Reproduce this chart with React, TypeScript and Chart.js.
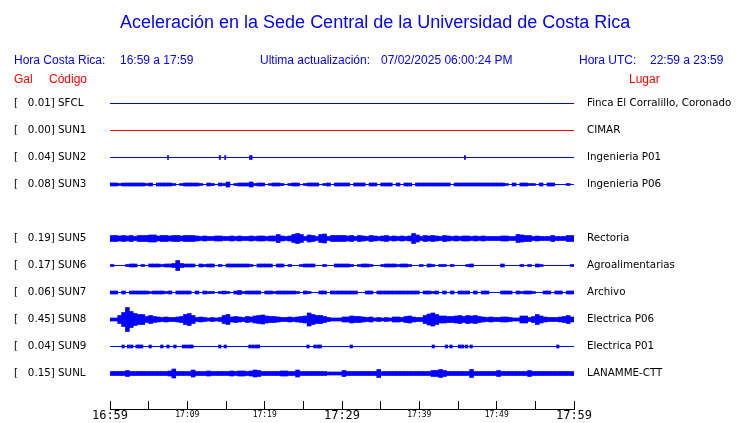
import React, { useEffect, useRef } from 'react';
import { Chart, registerables } from 'chart.js';

Chart.register(...registerables);

// ---------- text ----------
const TITLE = 'Aceleración en la Sede Central de la Universidad de Costa Rica';
const HORA_CR_LABEL = 'Hora Costa Rica:';
const HORA_CR = '16:59 a 17:59';
const ACT_LABEL = 'Ultima actualización:';
const ACT_VALUE = '07/02/2025 06:00:24 PM';
const HORA_UTC_LABEL = 'Hora UTC:';
const HORA_UTC = '22:59 a 23:59';

// ---------- stations (row order, empty row = missing SUN4) ----------
const CODES = ['SFCL', 'SUN1', 'SUN2', 'SUN3', '', 'SUN5', 'SUN6', 'SUN7', 'SUN8', 'SUN9', 'SUNL'];
const GAL = [0.01, 0.0, 0.04, 0.08, null, 0.19, 0.17, 0.06, 0.45, 0.04, 0.15];
const PLACES = [
  'Finca El Corralillo, Coronado', 'CIMAR', 'Ingenieria P01', 'Ingenieria P06', '',
  'Rectoria', 'Agroalimentarias', 'Archivo', 'Electrica P06', 'Electrica P01', 'LANAMME-CTT',
];
const TRACE_COLORS = ['#0000ff', '#ff0000', '#0000ff', '#0000ff', '', '#0000ff', '#0000ff', '#0000ff', '#0000ff', '#0000ff', '#0000ff'];

// ---------- time axis (minutes after 16:59) ----------
const X_TICKS = [0, 5, 10, 15, 20, 25, 30, 35, 40, 45, 50, 55, 60];
const X_TICK_LABELS = ['16:59', '', '17:09', '', '17:19', '', '17:29', '', '17:39', '', '17:49', '', '17:59'];
const X_MAJOR_LABELS = ['16:59', '17:29', '17:59'];

// ---------- trace envelopes: half-amplitude per 30 s bin (120 bins) ----------
const SUN3_ENV = [
  1.5, 1.5, 1, 1.5, 1.5, 1.5, 1.5, 1.5, 1.5, 1, 1.5, 0, 1.5, 1.5, 1.5, 1.5, 1, 0, 1, 1.5,
  1.5, 1.5, 1.5, 1, 0, 1.5, 1, 0, 1.5, 1, 2.5, 0, 1, 1.5, 1.5, 1.5, 2.5, 1, 1.5, 1.5,
  0, 1, 1.5, 1.5, 1, 0, 1, 1.5, 1.5, 0, 1, 1.5, 1.5, 1.5, 0, 1, 1.5, 0, 1.5, 1.5,
  1.5, 1.5, 0, 1.5, 1.5, 1.5, 0, 1.5, 1.5, 0, 1.5, 1.5, 1.5, 0, 1.5, 0, 1.5, 1.5, 0, 1.5,
  1.5, 1.5, 1.5, 1.5, 1.5, 1.5, 1.5, 1.5, 0, 1.5, 1.5, 1.5, 1.5, 1.5, 1.5, 1.5, 1.5, 1.5, 1.5, 1.5,
  1.5, 1.5, 1, 0, 1.5, 0, 1.5, 1.5, 1, 1, 0, 1.5, 0, 1.5, 1.5, 0, 0, 0, 1, 0,
];
const SUN5_ENV = [
  3, 3, 2.5, 3, 2.5, 3, 2, 3, 3, 3, 3.5, 3.5, 2.5, 3, 3, 2.5, 3, 3, 2.5, 3,
  3, 3, 2.5, 2, 2.5, 2, 2, 2.5, 2.5, 2, 2, 2.5, 2, 2.5, 2, 2, 2.5, 2, 2.5, 2.5,
  2, 2.5, 2.5, 4, 2.5, 2, 2.5, 4, 5, 4, 2, 3.5, 3, 2, 4, 4.5, 2, 3, 3, 3,
  3, 2.5, 3, 2, 3, 2.5, 2, 3, 2.5, 2, 2.5, 3, 2, 2.5, 2, 2.5, 2, 2.5, 5, 3.5,
  2, 3, 2.5, 3, 2.5, 2, 3, 2.5, 2, 2.5, 2, 2.5, 2.5, 2, 2.5, 2, 2.5, 2, 2, 2,
  2, 2.5, 2.5, 2, 2, 4, 3.5, 3, 3, 2, 2.5, 2, 2, 2, 3, 2, 2, 2, 3, 3,
];
const SUN6_ENV = [
  1, 0, 0, 0, 1, 1.5, 1.5, 0, 1, 0, 1.5, 1.5, 1.5, 1, 1.5, 1.5, 2, 5, 2, 1.5,
  1.5, 1.5, 0, 1.5, 1, 1.5, 1.5, 0, 1, 0, 1.5, 1.5, 1.5, 1.5, 1.5, 1.5, 1, 0, 1.5, 1.5,
  1.5, 1.5, 0, 1.5, 1.5, 0, 1, 0, 0, 1, 1.5, 1.5, 1.5, 0, 0, 1, 0, 0, 1.5, 1.5,
  1.5, 1.5, 1, 0, 1, 1.5, 1.5, 1, 0, 0, 1, 1.5, 1.5, 1.5, 1, 1.5, 1.5, 1, 0, 0,
  1, 0, 1.5, 1, 0, 1, 1, 0, 1, 0, 0, 0, 1, 1.5, 0, 0, 0, 0, 0, 0,
  0, 1.5, 0, 0, 0, 0, 1, 0, 1, 0, 1.5, 1, 0, 0, 0, 0, 0, 0, 0, 1,
];
const SUN7_ENV = [
  1.5, 1.5, 0, 1.5, 0, 1.5, 1.5, 1.5, 1.5, 1.5, 1, 1.5, 1.5, 1.5, 1, 1.5, 0, 1.5, 1.5, 1.5,
  1.5, 0, 1.5, 0, 1.5, 1, 1, 0, 1, 1.5, 1, 0, 1.5, 2, 1, 1.5, 1.5, 1.5, 1.5, 0,
  1.5, 1.5, 1, 1.5, 1.5, 1.5, 1.5, 1.5, 1, 0, 1.5, 1, 0, 0, 1.5, 1.5, 0, 1.5, 1.5, 1.5,
  1.5, 1.5, 1.5, 1.5, 0, 0, 1.5, 1.5, 0, 1.5, 1.5, 1.5, 1.5, 1.5, 1.5, 1.5, 1.5, 1.5, 1.5, 1.5,
  0, 1.5, 1.5, 1, 1.5, 0, 1.5, 0, 1.5, 0, 1.5, 1.5, 1.5, 0, 1.5, 0, 1.5, 1.5, 0, 0,
  0, 1.5, 1.5, 1.5, 0, 1.5, 1, 1.5, 1.5, 1, 0, 0, 1.5, 1.5, 0, 1.5, 1.5, 0, 1.5, 1.5,
];
const SUN8_ENV = [
  1.5, 1.5, 4, 7, 12, 8, 6, 5, 5, 3, 4, 3, 2.5, 2, 2.5, 2, 2, 2.5, 3, 5,
  6, 4, 2, 2.5, 2, 1.5, 2, 1.5, 2, 4, 5, 2.5, 3, 2.5, 2, 3, 2.5, 3.5, 4, 4.5,
  3.5, 3, 3, 2.5, 2, 2, 2.5, 2, 2.5, 3, 3.5, 6.5, 5, 4, 4, 3, 2, 1.5, 1.5, 1.5,
  2.5, 2.5, 3.5, 3, 3, 2.5, 2, 2.5, 1.5, 2, 1.5, 2, 1.5, 2.5, 2.5, 2, 3, 3.5, 2.5, 2,
  2, 4, 5.5, 6.5, 5, 3.5, 3.5, 3, 3, 3.5, 4, 3, 4, 3.5, 4, 3, 2.5, 2, 2.5, 2,
  2, 2.5, 2.5, 2, 1.5, 1.5, 3.5, 3.5, 2, 3, 5, 3.5, 2.5, 2, 2, 2, 2.5, 3, 4, 2.5,
];
const SUNL_ENV = [
  2, 2, 2, 2, 3, 2, 2, 2, 2, 2, 2, 2, 2, 2, 2, 2.5, 4.5, 2, 2, 2,
  2, 3.5, 2, 2, 2, 2.5, 2, 2, 2, 2, 2, 2.5, 2, 2.5, 2.5, 2, 2.5, 3.5, 3, 2,
  2, 2, 2, 2, 2.5, 2.5, 2, 2, 3.5, 2, 2, 2, 2, 2, 2, 2, 1.5, 1.5, 1.5, 1.5,
  3, 2, 2, 2, 2, 2, 2, 2, 2, 4, 2, 2, 2, 2, 2, 2, 2, 2, 2, 2,
  2, 2, 2, 3, 3, 4, 3, 2, 2, 2, 2, 2, 2, 4, 2, 2, 2, 2, 2, 2,
  3, 2, 2, 2, 2, 2, 2, 2, 3, 2, 2, 2, 2, 2, 2, 2, 2, 2, 2, 2,
];
// isolated spikes (minutes after 16:59) on the quiet stations
const SUN2_SPIKES = [7.5, 14.2, 14.9, 18.1, 18.3, 45.9];
const SUN2_AMP = 2;
const SUN9_SPIKES = [
  1.7, 2.4, 2.8, 3.5, 3.8, 4.1, 5.2, 6.7, 7.5, 8.4, 9.5, 9.9, 10.3, 10.6, 14.2, 14.9,
  18.1, 18.5, 18.9, 19.2, 25.6, 26.5, 26.9, 27.2, 31.2, 41.8, 43.5, 44.1, 45.2, 45.6, 46.1, 46.7, 57.9,
];
const SUN9_AMP = 1.5;

const ENVELOPES: [number, number[]][] = [
  [3, SUN3_ENV], [5, SUN5_ENV], [6, SUN6_ENV], [7, SUN7_ENV], [8, SUN8_ENV], [10, SUNL_ENV],
];
const SPIKES: [number, number[], number, number][] = [
  [2, SUN2_SPIKES, SUN2_AMP, 1.2],
  [9, SUN9_SPIKES, SUN9_AMP, 2.5],
];

const ROW_STEP = 27; // y units between rows
const BIN_MIN = 0.5; // minutes per envelope bin

function galLabel(i: number) {
  if (!CODES[i]) return '';
  return `[   ${(GAL[i] as number).toFixed(2)}] ${CODES[i]}`;
}

const axisLinePlugin = {
  id: 'axisLine',
  afterDraw(chart: any) {
    const xs = chart.scales.x;
    const ctx = chart.ctx;
    const y = Math.round(xs.top + 8) + 0.5;
    ctx.save();
    ctx.strokeStyle = '#000';
    ctx.lineWidth = 1;
    ctx.beginPath();
    ctx.moveTo(Math.round(xs.getPixelForValue(X_TICKS[0])), y);
    ctx.lineTo(Math.round(xs.getPixelForValue(X_TICKS[X_TICKS.length - 1])) + 1, y);
    ctx.stroke();
    ctx.restore();
  },
};

export default function App() {
  const ref = useRef<HTMLCanvasElement | null>(null);

  useEffect(() => {
    if (!ref.current) return;
    const datasets: any[] = [];

    CODES.forEach((code, i) => {
      if (!code) return;
      datasets.push({
        type: 'line',
        data: [{ x: X_TICKS[0], y: i * ROW_STEP }, { x: X_TICKS[X_TICKS.length - 1], y: i * ROW_STEP }],
        borderColor: TRACE_COLORS[i],
        borderWidth: 1,
        pointRadius: 0,
        yAxisID: 'y',
      });
    });

    ENVELOPES.forEach(([row, env]) => {
      const c = row * ROW_STEP;
      const data = env
        .map((a, k) => (a > 0 ? { x: (k + 0.5) * BIN_MIN, y: [c - a, c + a] } : null))
        .filter(Boolean);
      datasets.push({
        type: 'bar',
        data,
        backgroundColor: TRACE_COLORS[row],
        borderWidth: 0,
        barThickness: 3.9,
        grouped: false,
        yAxisID: 'y',
      });
    });

    SPIKES.forEach(([row, mins, amp, thick]) => {
      const c = row * ROW_STEP;
      datasets.push({
        type: 'bar',
        data: mins.map((m) => ({ x: m, y: [c - amp, c + amp] })),
        backgroundColor: TRACE_COLORS[row],
        borderWidth: 0,
        barThickness: thick,
        grouped: false,
        yAxisID: 'y',
      });
    });

    const rowTicks = (scale: any) => {
      scale.ticks = CODES.map((c, i) => (c ? { value: i * ROW_STEP } : null)).filter(Boolean);
    };
    const rowFont = { family: 'DejaVu Sans', size: 10.3 };

    const chart = new Chart(ref.current, {
      type: 'bar',
      data: { datasets },
      options: {
        responsive: false,
        devicePixelRatio: 1,
        animation: false,
        events: [],
        layout: { padding: { left: 14, top: 90, right: 0, bottom: 0 } },
        plugins: { legend: { display: false }, tooltip: { enabled: false }, title: { display: false } },
        scales: {
          x: {
            type: 'linear',
            min: X_TICKS[0],
            max: X_TICKS[X_TICKS.length - 1],
            offset: false,
            border: { display: false },
            grid: { display: true, drawOnChartArea: false, drawTicks: true, tickLength: 8, color: '#000', offset: false },
            afterBuildTicks: (scale: any) => {
              scale.ticks = X_TICKS.map((v) => ({ value: v }));
            },
            afterFit: (scale: any) => {
              scale.height = 22;
            },
            ticks: {
              autoSkip: false,
              minRotation: 0,
              maxRotation: 0,
              padding: 0,
              color: '#000',
              callback: (_v: any, i: number) => X_TICK_LABELS[i],
              font: (ctx: any) => {
                const lbl = X_TICK_LABELS[ctx.index];
                return X_MAJOR_LABELS.includes(lbl)
                  ? { family: 'DejaVu Sans Mono', size: 12, lineHeight: 1.2 }
                  : { family: 'DejaVu Sans Mono', size: 8, lineHeight: 1.55 };
              },
            },
          },
          y: {
            type: 'linear',
            position: 'left',
            reverse: true,
            min: -13.5,
            max: 297.5,
            border: { display: false },
            grid: { display: false, drawTicks: false },
            afterBuildTicks: rowTicks,
            afterFit: (scale: any) => {
              scale.width = 96;
            },
            ticks: {
              crossAlign: 'far',
              color: '#000',
              font: rowFont,
              callback: (v: any) => galLabel(Math.round(v / ROW_STEP)),
            },
          },
          y2: {
            type: 'linear',
            position: 'right',
            reverse: true,
            min: -13.5,
            max: 297.5,
            border: { display: false },
            grid: { display: false, drawTicks: false },
            afterBuildTicks: rowTicks,
            afterFit: (scale: any) => {
              scale.width = 166;
            },
            ticks: {
              padding: 13,
              color: '#000',
              font: rowFont,
              callback: (v: any) => PLACES[Math.round(v / ROW_STEP)],
            },
          },
        },
      } as any,
      plugins: [axisLinePlugin],
    });
    return () => chart.destroy();
  }, []);

  const txt = (left: number, top: number, size: number, color: string): React.CSSProperties => ({
    position: 'absolute',
    left,
    top,
    fontSize: size,
    lineHeight: `${size}px`,
    color,
    fontFamily: '"Liberation Sans", Arial, sans-serif',
    whiteSpace: 'pre',
  });

  return (
    <div style={{ position: 'relative', width: 740, height: 423, background: '#fff' }}>
      <style>{'body{margin:0}'}</style>
      <canvas ref={ref} width={740} height={423} style={{ display: 'block' }} />
      <div style={txt(120, 13, 18, '#0000ff')}>{TITLE}</div>
      <div style={txt(14, 54, 12, '#0000ff')}>{HORA_CR_LABEL}</div>
      <div style={txt(120, 54, 12, '#0000ff')}>{HORA_CR}</div>
      <div style={txt(260, 54, 12, '#0000ff')}>{ACT_LABEL}</div>
      <div style={txt(381, 54, 12, '#0000ff')}>{ACT_VALUE}</div>
      <div style={txt(579, 54, 12, '#0000ff')}>{HORA_UTC_LABEL}</div>
      <div style={txt(650, 54, 12, '#0000ff')}>{HORA_UTC}</div>
      <div style={txt(14, 73, 12, '#ff0000')}>Gal</div>
      <div style={txt(49, 73, 12, '#ff0000')}>Código</div>
      <div style={txt(629, 73, 12, '#ff0000')}>Lugar</div>
    </div>
  );
}
